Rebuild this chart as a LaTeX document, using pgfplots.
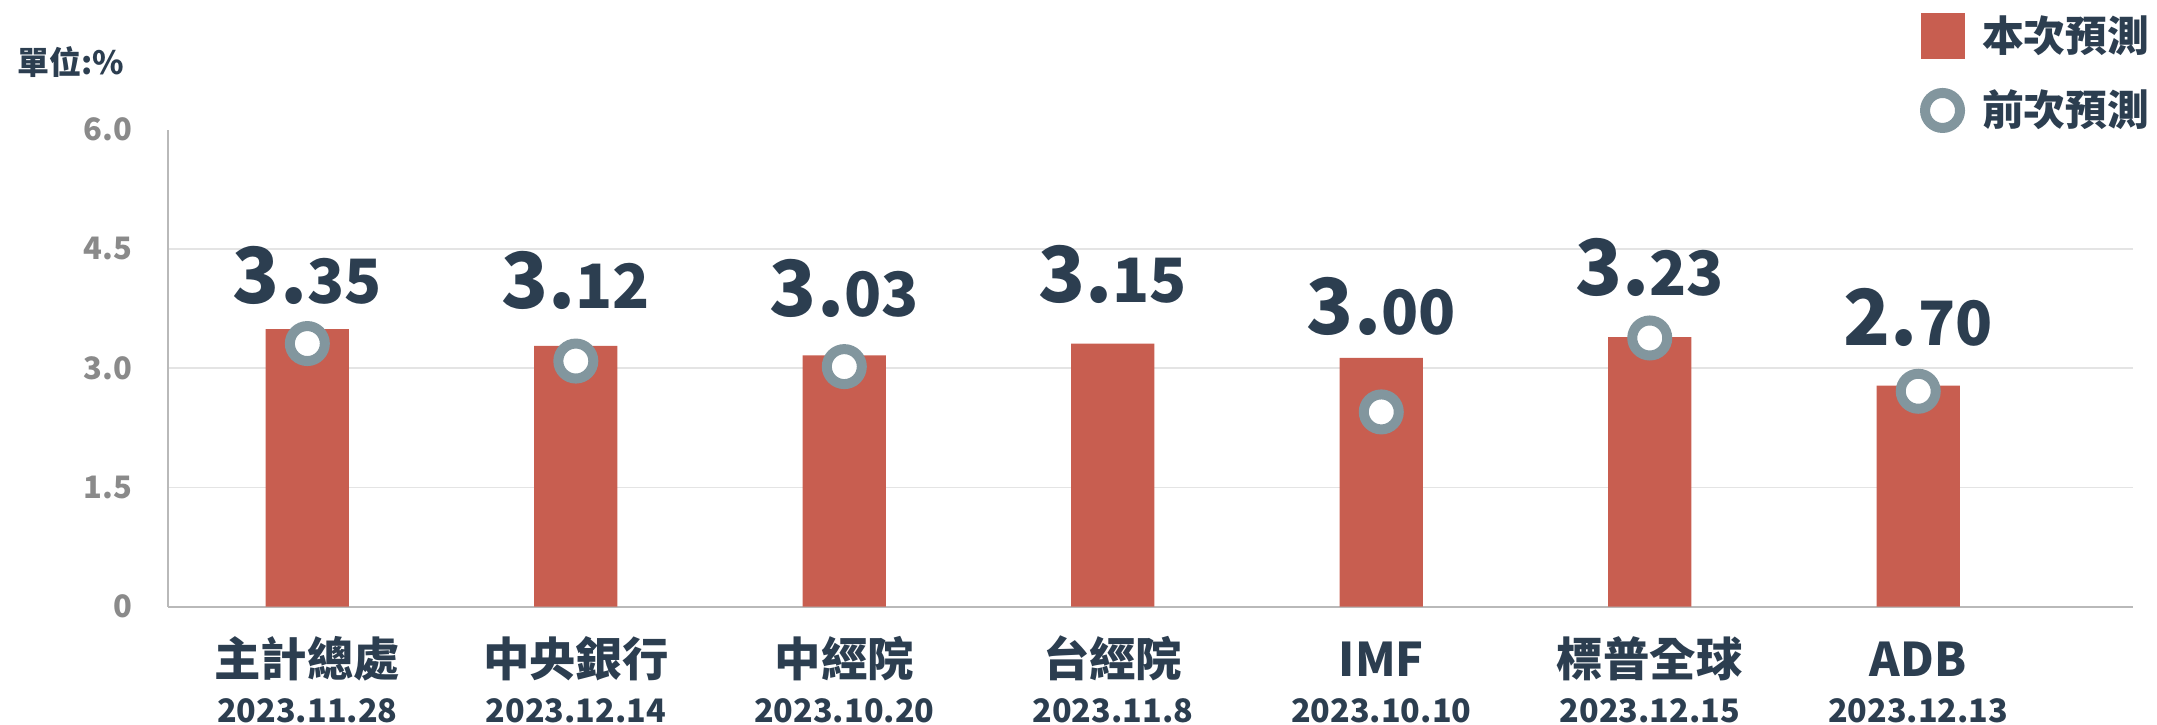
\documentclass[border=0pt]{standalone}
\usepackage{pgfplots}
\pgfplotsset{compat=1.18}
\usepackage{fontspec}
\setmainfont{Noto Sans CJK TC}
\definecolor{barcol}{RGB}{200,94,80}
\definecolor{ringcol}{RGB}{130,150,158}
\definecolor{dark}{RGB}{44,62,80}
\definecolor{tickgray}{RGB}{138,138,138}
\definecolor{gridgray}{RGB}{228,228,228}
\definecolor{axisgray}{RGB}{185,185,185}
\newcommand\vl[2]{{\fontsize{22}{24}\selectfont\bfseries #1.}{\fontsize{17.4}{20}\selectfont\bfseries #2}}
\begin{document}
\begin{tikzpicture}
\useasboundingbox (-16.8mm,-11.83mm) rectangle (198.9mm,60.67mm);
\begin{axis}[
  at={(0,0)}, anchor=south west,
  width=196.5mm, height=47.7mm, scale only axis,
  xmin=-0.519, xmax=6.80, ymin=0, ymax=6,
  clip=false,
  axis x line*=bottom, axis y line*=left,
  axis line style={-, draw=axisgray, line width=0.2mm},
  major tick length=0pt,
  /pgf/number format/assume math mode=true,
  xtick={0,...,6},
  xticklabels={主計總處,中央銀行,中經院,台經院,IMF,標普全球,ADB},
  xticklabel style={anchor=base, inner sep=0pt, yshift=-7.0mm, font=\fontsize{13.2}{14}\selectfont\bfseries, text=dark},
  extra x ticks={0,...,6},
  extra x tick labels={2023.11.28,2023.12.14,2023.10.20,2023.11.8,2023.10.10,2023.12.15,2023.12.13},
  extra x tick style={xticklabel style={yshift=-4.6mm, font=\fontsize{9.2}{10}\selectfont\bfseries}},
  ytick={0,1.5,3,4.5},
  yticklabels={0,1.5,3.0,4.5},
  extra y ticks={6}, extra y tick labels={6.0},
  extra y tick style={grid=none},
  ymajorgrids, grid style={gridgray, line width=0.15mm},
  yticklabel style={anchor=base east, inner sep=0pt, xshift=-3.5mm, yshift=-1.1mm, font=\fontsize{8.8}{10}\selectfont\bfseries, text=tickgray},
  ylabel={單位:\%},
  every axis y label/.style={at={(rel axis cs:-0.0768,1.115)}, anchor=base west, inner sep=0pt, font=\fontsize{9.1}{10}\selectfont\bfseries, text=dark},
  legend style={at={(rel axis cs:0.8916,1.2447)}, anchor=north west, draw=none, fill=none, inner sep=0pt, outer sep=0pt, row sep=2.9mm, column sep=1.7mm, font=\fontsize{11.9}{12}\selectfont\bfseries, text=dark, nodes={inner sep=0pt}},
  legend cell align=left,
]
\addplot[ybar, bar width=0.31, fill=barcol, draw=none,
  legend image code/.code={\fill[barcol] (0mm,-2.3mm) rectangle (4.4mm,2.3mm);}]
  coordinates {(0,3.49) (1,3.28) (2,3.16) (3,3.31) (4,3.13) (5,3.39) (6,2.78)};
\addlegendentry{本次預測}
\addplot[only marks, mark=*, mark size=1.75mm, mark options={draw=ringcol, fill=white, line width=1mm},
  legend image code/.code={\draw[ringcol, line width=1mm, fill=white] (2.2mm,0mm) circle (1.75mm);}]
  coordinates {(0,3.31) (1,3.09) (2,3.02) (4,2.45) (5,3.38) (6,2.71)};
\addlegendentry{前次預測}
\addplot[forget plot, draw=none, mark=none, nodes near coords, point meta=explicit symbolic,
  every node near coord/.append style={anchor=base, inner sep=0pt, yshift=0pt, text=dark}]
  coordinates {(0,3.82) [\vl{3}{35}] (1,3.75) [\vl{3}{12}] (2,3.65) [\vl{3}{03}] (3,3.83) [\vl{3}{15}] (4,3.42) [\vl{3}{00}] (5,3.92) [\vl{3}{23}] (6,3.28) [\vl{2}{70}]};
\end{axis}
\end{tikzpicture}
\end{document}
